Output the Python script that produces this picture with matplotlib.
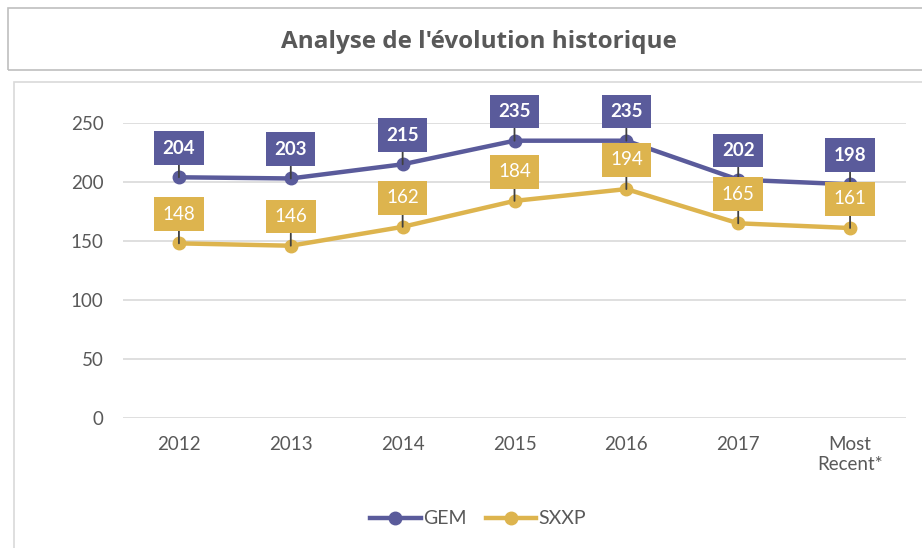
import matplotlib.pyplot as plt
from matplotlib.patches import Rectangle

# Dane wykresu
kategorie = ["2012", "2013", "2014", "2015", "2016", "2017", "Most\nRecent*"]
gem = [204, 203, 215, 235, 235, 202, 198]
sxxp = [148, 146, 162, 184, 194, 165, 161]
y_ticks = [0, 50, 100, 150, 200, 250]

kolor_gem = "#5A5B9B"
kolor_sxxp = "#DDB44E"
szary = "#595959"

plt.rcParams["font.family"] = ["Lato", "DejaVu Sans"]

fig = plt.figure(figsize=(9.22, 5.48), dpi=100)

# Ramki tytułu i wykresu
fig.patches.append(Rectangle((8 / 922, 1 - 70 / 548), 1.0, 62 / 548,
                             transform=fig.transFigure, fill=False,
                             edgecolor="#BFBFBF", linewidth=1.2))
fig.patches.append(Rectangle((14 / 922, -0.1), 1.0, 1 - 82 / 548 + 0.1,
                             transform=fig.transFigure, fill=False,
                             edgecolor="#D9D9D9", linewidth=1.2))
fig.text(479 / 922, 1 - 42 / 548, "Analyse de l'évolution historique",
         ha="center", va="center", fontsize=17.5, fontweight="bold", color=szary,
         family=["Open Sans", "DejaVu Sans"])

ax = fig.add_axes([123 / 922, 130 / 548, 783 / 922, 295 / 548])
x = list(range(len(kategorie)))

ax.plot(x, gem, color=kolor_gem, linewidth=3.2, marker="o", markersize=9,
        label="GEM", zorder=3)
ax.plot(x, sxxp, color=kolor_sxxp, linewidth=3.2, marker="o", markersize=9,
        label="SXXP", zorder=3)

# Etykiety danych
for seria, kolor, waga in [(gem, kolor_gem, "bold"), (sxxp, kolor_sxxp, "normal")]:
    for xi, v in zip(x, seria):
        ax.annotate(str(v), xy=(xi, v), xytext=(0, 21), textcoords="offset points",
                    ha="center", va="center", fontsize=13.5, fontweight=waga,
                    color="white", zorder=5, annotation_clip=False,
                    bbox=dict(boxstyle="square,pad=0.45", facecolor=kolor,
                              edgecolor="none"),
                    arrowprops=dict(arrowstyle="-", color="#404040", lw=1.3,
                                    shrinkA=0, shrinkB=0))

ax.set_xlim(-0.5, len(kategorie) - 0.5)
ax.set_ylim(0, 250)
ax.set_yticks(y_ticks)
ax.set_xticks(x)
ax.set_xticklabels(kategorie)
ax.tick_params(axis="both", length=0, labelsize=13.5, labelcolor=szary)
ax.tick_params(axis="y", pad=14)
ax.tick_params(axis="x", pad=13)
ax.grid(axis="y", color="#D9D9D9", linewidth=1.2)
ax.set_axisbelow(True)
for s in ax.spines.values():
    s.set_visible(False)

fig.legend(loc="center", bbox_to_anchor=(478 / 922, 1 - 519 / 548), ncol=2,
           frameon=False, fontsize=14, labelcolor=szary, handlelength=2.6,
           handletextpad=0.1, columnspacing=1.0)

fig.savefig("out.png", dpi=100)
